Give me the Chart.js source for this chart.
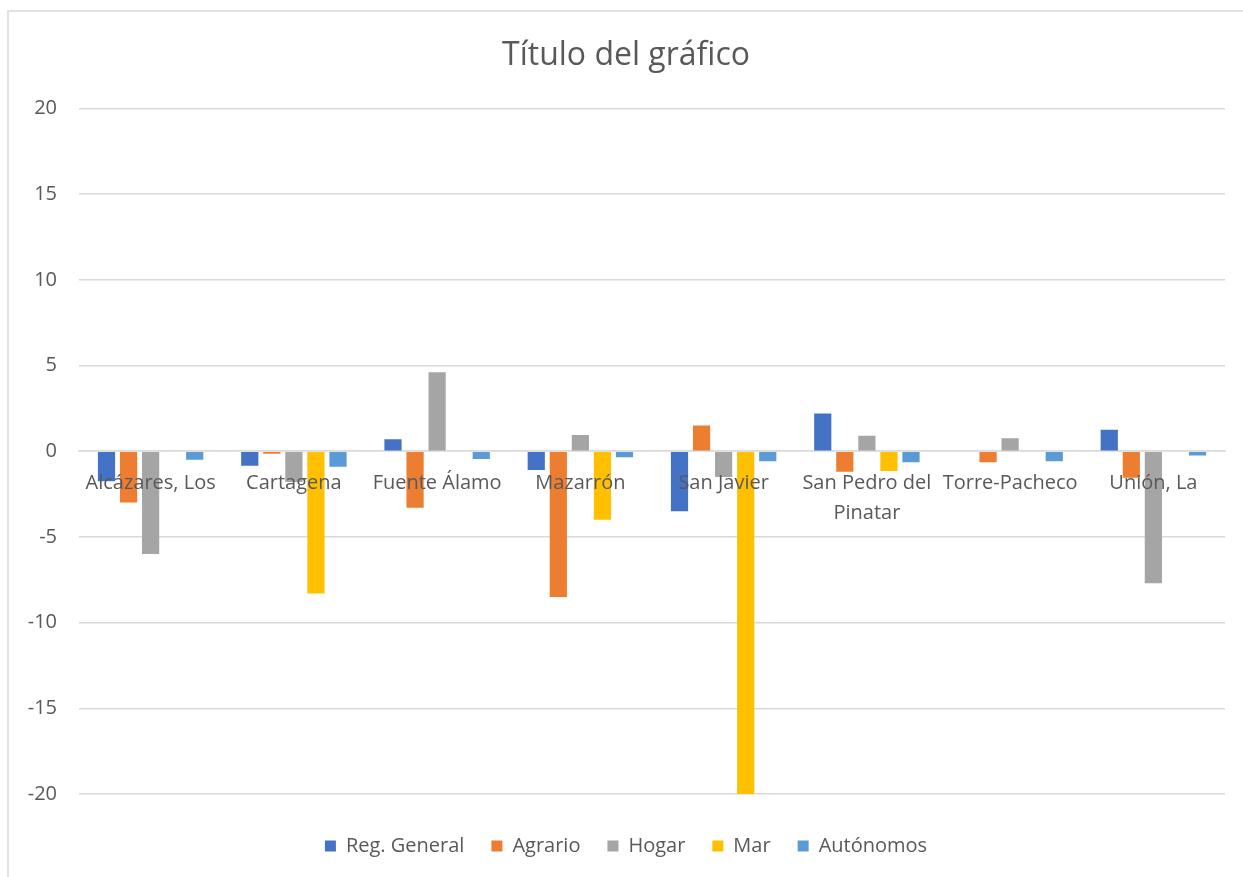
<!DOCTYPE html>
<html>
<head>
<meta charset="utf-8">
<script src="https://cdn.jsdelivr.net/npm/chart.js@4.4.1/dist/chart.umd.min.js"></script>
<style>
  html, body { margin: 0; padding: 0; background: #ffffff; }
  #frame {
    position: absolute; left: 7px; top: 10px; width: 1300px; height: 900px;
    border-top: 2px solid #e2e2e2; border-left: 2px solid #e2e2e2;
  }
  #wrap { position: absolute; left: 0; top: 0; width: 1243px; height: 877px; }
</style>
</head>
<body>
<div id="frame"></div>
<div id="wrap"><canvas id="chart" width="1243" height="877"></canvas></div>
<script>
// municipios
const categories = ['Alcázares, Los', 'Cartagena', 'Fuente Álamo', 'Mazarrón', 'San Javier',
    ['San Pedro del', 'Pinatar'], 'Torre-Pacheco', 'Unión, La'];

// series values
const regGeneral = [-1.75, -0.85, 0.7, -1.1, -3.5, 2.2, 0, 1.25];
const agrario = [-3.0, -0.15, -3.3, -8.5, 1.5, -1.2, -0.65, -1.55];
const hogar = [-6.0, -1.8, 4.6, 0.95, -1.5, 0.9, 0.75, -7.7];
const mar = [0, -8.3, 0, -4.0, -20, -1.15, 0, 0];
const autonomos = [-0.5, -0.9, -0.45, -0.35, -0.58, -0.65, -0.58, -0.25];

// y axis ticks
const yTicks = [-20, -15, -10, -5, 0, 5, 10, 15, 20];

const FONT = '"Open Sans", "Noto Sans", sans-serif';
const TEXT = '#595959';

const ctx = document.getElementById('chart').getContext('2d');
new Chart(ctx, {
    type: 'bar',
    data: {
        labels: categories,
        datasets: [
            { label: 'Reg. General', data: regGeneral, backgroundColor: '#4472C4' },
            { label: 'Agrario', data: agrario, backgroundColor: '#ED7D31' },
            { label: 'Hogar', data: hogar, backgroundColor: '#A5A5A5' },
            { label: 'Mar', data: mar, backgroundColor: '#FFC000' },
            { label: 'Autónomos', data: autonomos, backgroundColor: '#5B9BD5' }
        ]
    },
    options: {
        responsive: false,
        animation: false,
        categoryPercentage: 0.77,
        barPercentage: 0.78,
        layout: { padding: { top: 20, right: 18, bottom: 11, left: 27 } },
        plugins: {
            tooltip: { enabled: false },
            title: {
                display: true,
                text: 'Título del gráfico',
                color: TEXT,
                font: { family: FONT, size: 32, weight: 'normal' },
                padding: { top: 17, bottom: 33 }
            },
            legend: {
                position: 'bottom',
                labels: {
                    color: TEXT,
                    font: { family: FONT, size: 20 },
                    boxWidth: 11,
                    boxHeight: 11,
                    padding: 27
                }
            }
        },
        scales: {
            x: {
                position: { y: 0 },
                grid: { display: false, drawTicks: false },
                border: { color: '#d9d9d9', width: 1.5 },
                ticks: {
                    z: 1,
                    color: TEXT,
                    font: { family: FONT, size: 20, lineHeight: 1.5 },
                    padding: 17,
                    maxRotation: 0,
                    autoSkip: false
                }
            },
            // empty bottom spacer between the plot and the legend
            gap: {
                type: 'category',
                position: 'bottom',
                afterFit: function(scale) { scale.height = 15; },
                grid: { display: false, drawTicks: false },
                border: { display: false },
                ticks: { display: false }
            },
            y: {
                min: -20,
                max: 20,
                afterFit: function(scale) { scale.width = 52; },
                afterBuildTicks: function(scale) {
                    scale.ticks = yTicks.map(v => ({ value: v }));
                },
                grid: { color: '#d9d9d9', lineWidth: 1.5, drawTicks: false },
                border: { display: false },
                ticks: {
                    color: TEXT,
                    font: { family: FONT, size: 20 },
                    padding: 22
                }
            }
        }
    }
});
</script>
</body>
</html>
